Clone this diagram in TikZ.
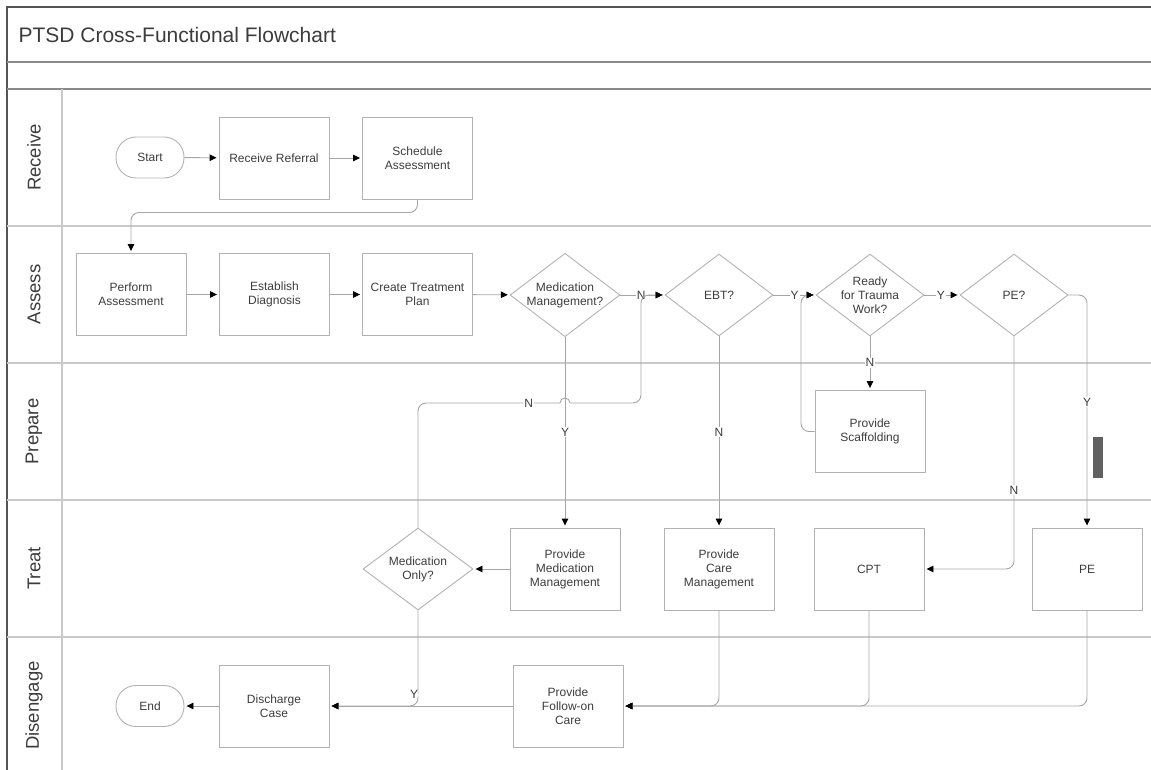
\documentclass[tikz,border=0pt]{standalone}
\usepackage{fontspec}
\setmainfont{Liberation Sans}
\usetikzlibrary{shapes.geometric,arrows.meta,calc}
\definecolor{txt}{HTML}{3C3C3C}
\definecolor{boxc}{HTML}{B2B2B2}
\definecolor{linec}{HTML}{A6A6A6}
\definecolor{lanec}{HTML}{CACACA}
\definecolor{bandc}{HTML}{8A8A8A}
\definecolor{framec}{HTML}{555555}
\begin{document}
\begin{tikzpicture}[x=1pt,y=-1pt,
  every node/.style={text=txt},
  nodefont/.style={font=\fontsize{12}{14}\selectfont},
  proc/.style={nodefont, draw=boxc, line width=0.9pt, minimum width=110pt, minimum height=82pt, inner sep=1pt, align=center},
  term/.style={nodefont, draw=boxc, line width=0.9pt, rounded corners=20pt, minimum width=68pt, minimum height=41pt, inner sep=1pt},
  dec/.style={nodefont, draw=boxc, line width=0.9pt, diamond, shape aspect=1.317, minimum width=108pt, minimum height=82pt, inner sep=0pt, align=center},
  conn/.style={draw=linec, line width=0.9pt, -{Triangle[length=7pt,width=6.5pt,color=black]}, shorten >=2pt},
  plain/.style={draw=linec, line width=0.9pt},
  lbl/.style={nodefont, fill=white, inner sep=1pt},
  lanelbl/.style={font=\fontsize{18.5}{20}\selectfont, rotate=90},
  laneline/.style={draw=lanec, line width=1.5pt},
  bandline/.style={draw=bandc, line width=1.6pt}
]
\useasboundingbox (0,0) rectangle (1151,770);
% frame and bands
\draw[draw=framec, line width=1.6pt] (1151,7) -- (7,7) -- (7,770);
\draw[bandline] (7,62) -- (1151,62);
\draw[bandline] (7,89) -- (1151,89);
\node[anchor=west, font=\fontsize{21}{24}\selectfont] (title) at (15,35) {PTSD Cross-Functional Flowchart};
% lanes
\foreach \yy in {226,363,500,637} { \draw[laneline] (7,\yy) -- (1151,\yy); }
\draw[laneline] (62,89) -- (62,770);
\node[lanelbl] (lreceive) at (34,157.5) {Receive};
\node[lanelbl] (lassess) at (34,294.5) {Assess};
\node[lanelbl] (lprepare) at (34,431.5) {Prepare};
\node[lanelbl] (ltreat) at (34,568.5) {Treat};
\node[lanelbl] (ldisengage) at (34,705.5) {Disengage};
% artifact bar
\fill[fill=black!62] (1093,437) rectangle (1103,478);
% nodes
\node[term] (start) at (150,157.5) {Start};
\node[proc] (rr) at (274,158) {Receive Referral};
\node[proc] (sa) at (417.5,158) {Schedule\\Assessment};
\node[proc] (pa) at (131,294.5) {Perform\\Assessment};
\node[proc] (ed) at (274.5,294.5) {Establish\\Diagnosis};
\node[proc] (ctp) at (417.5,294.5) {Create Treatment\\Plan};
\node[dec] (mm) at (565,295) {Medication\\Management?};
\node[dec] (ebt) at (719,295) {EBT?};
\node[dec] (ready) at (870,295) {Ready\\for Trauma\\Work?};
\node[dec] (peq) at (1014,295) {PE?};
\node[proc] (scaf) at (870,431.5) {Provide\\Scaffolding};
\node[dec, minimum width=110pt] (mo) at (418,569) {Medication\\Only?};
\node[proc] (pmm) at (565,569) {Provide\\Medication\\Management};
\node[proc] (pcm) at (719,569) {Provide\\Care\\Management};
\node[proc] (cpt) at (869,569) {CPT};
\node[proc] (pe) at (1087,569) {PE};
\node[term] (endn) at (150,706) {End};
\node[proc] (dc) at (274,706) {Discharge\\Case};
\node[proc] (fc) at (568,706) {Provide\\Follow-on\\Care};
% helper coordinates
\coordinate (r1) at (0,212.5);
\coordinate (hopA) at (560,403);
\coordinate (jn) at (641,403);
\coordinate (xs) at (801,0);
\coordinate (xp) at (1087,0);
% connectors
\draw[conn] (start) -- (rr);
\draw[conn] (rr) -- (sa);
\draw[conn, rounded corners=8pt] (sa.south) |- (pa.north |- r1) -- (pa.north);
\draw[conn] (pa) -- (ed);
\draw[conn] (ed) -- (ctp);
\draw[conn] (ctp) -- (mm);
\draw[conn] (mm.east) -- node[lbl, pos=0.47] {N} (ebt.west);
\draw[conn] (ebt.east) -- node[lbl, pos=0.5] {Y} (ready.west);
\draw[conn] (ready.east) -- node[lbl, pos=0.47] {Y} (peq.west);
\draw[conn] (mm.south) -- node[lbl, pos=0.5] {Y} (pmm.north);
\draw[conn] (ebt.south) -- node[lbl, pos=0.5] {N} (pcm.north);
\draw[conn] (ready.south) -- node[lbl, pos=0.49] {N} (scaf.north);
\draw[conn, rounded corners=8pt] (scaf.west) -| (xs |- ready.west) -- (ready.west);
\draw[conn, rounded corners=8pt] (peq.east) -| node[lbl, pos=0.73] {Y} (pe.north);
\draw[conn, rounded corners=8pt] (peq.south) |- node[lbl, pos=0.33] {N} (cpt.east);
\draw[conn] (pmm.west) -- (mo.east);
\draw[plain, rounded corners=8pt] (mo.north) |- node[lbl, pos=0.89] {N} (hopA);
\draw[plain] (hopA) arc[start angle=180, end angle=0, radius=5pt];
\draw[conn, rounded corners=8pt] ($(hopA)+(10,0)$) -- (jn) |- (ebt.west);
\draw[conn, rounded corners=8pt] (mo.south) |- node[lbl, pos=0.44, xshift=-4pt] {Y} (dc.east);
\draw[conn] (fc.west) -- (dc.east);
\draw[conn] (dc.west) -- (endn.east);
\draw[conn, rounded corners=8pt] (pcm.south) |- (fc.east);
\draw[conn, rounded corners=8pt] (cpt.south) |- (fc.east);
\draw[conn, rounded corners=8pt] (pe.south) |- (fc.east);
\end{tikzpicture}
\end{document}
